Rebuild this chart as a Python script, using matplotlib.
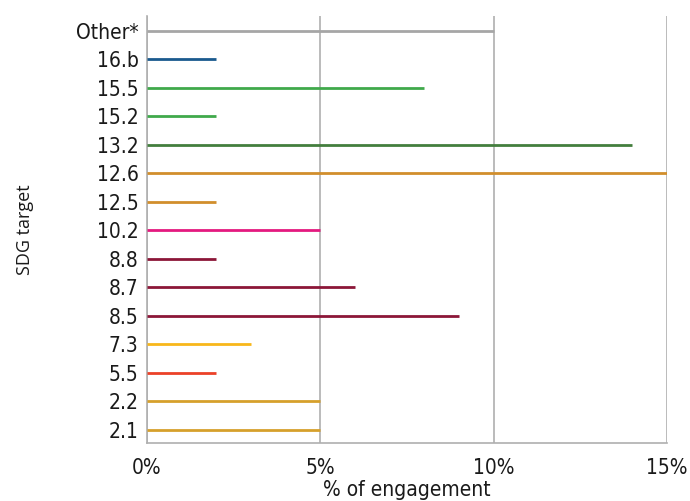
"""
Horizontal line-bar chart: share of engagement per SDG target.
Saves out.png at 690x501.
"""

import matplotlib.pyplot as plt
from matplotlib.ticker import PercentFormatter


TARGETS = ['2.1', '2.2', '5.5', '7.3', '8.5', '8.7', '8.8', '10.2',
           '12.5', '12.6', '13.2', '15.2', '15.5', '16.b', 'Other*']
ENGAGEMENT = [5, 5, 2, 3, 9, 6, 2, 5, 2, 15, 14, 2, 8, 2, 10]
COLORS = ['#D6A02B', '#D6A02B', '#EB4128', '#F8B71A', '#8C1638',
          '#8C1638', '#8C1638', '#E4197F', '#D18E2C', '#D18E2C',
          '#437E3D', '#40A94B', '#40A94B', '#1A5A8E', '#A6A6A6']

TICK_FONT = ['Liberation Sans Narrow', 'DejaVu Sans']
GRID_GREY = '#AFAFAF'


def main():
    fig = plt.figure(figsize=(6.9, 5.01), dpi=100, facecolor='white')
    ax = fig.add_axes([0.213, 0.116, 0.7537, 0.852])

    ypos = range(len(TARGETS))
    ax.hlines(ypos, 0, ENGAGEMENT, colors=COLORS, linewidth=2.0, zorder=3)

    ax.set_xlim(0, 15)
    ax.set_ylim(-0.47, 14.52)
    ax.set_xticks([0, 5, 10, 15])
    ax.xaxis.set_major_formatter(PercentFormatter(decimals=0))
    ax.set_yticks(list(ypos))
    ax.set_yticklabels(TARGETS)

    # light vertical gridlines, no ticks
    ax.grid(axis='x', color=GRID_GREY, linewidth=1.2, zorder=0)
    ax.tick_params(length=0, labelsize=15, pad=6)
    ax.tick_params(axis='x', pad=11)
    for lab in ax.get_xticklabels() + ax.get_yticklabels():
        lab.set_family(TICK_FONT)
        lab.set_stretch('condensed')
        lab.set_color('#1A1A1A')

    for side in ['top', 'right']:
        ax.spines[side].set_visible(False)
    for side in ['left', 'bottom']:
        ax.spines[side].set_color(GRID_GREY)
        ax.spines[side].set_linewidth(1.2)

    ax.set_xlabel('% of engagement', fontsize=15, family=TICK_FONT,
                  fontstretch='condensed', labelpad=1, color='#1A1A1A')
    ax.set_ylabel('SDG target', fontsize=13, family=['Open Sans', 'DejaVu Sans'],
                  labelpad=30, color='#1A1A1A')

    fig.savefig('out.png', dpi=100, facecolor='white')


if __name__ == '__main__':
    main()
